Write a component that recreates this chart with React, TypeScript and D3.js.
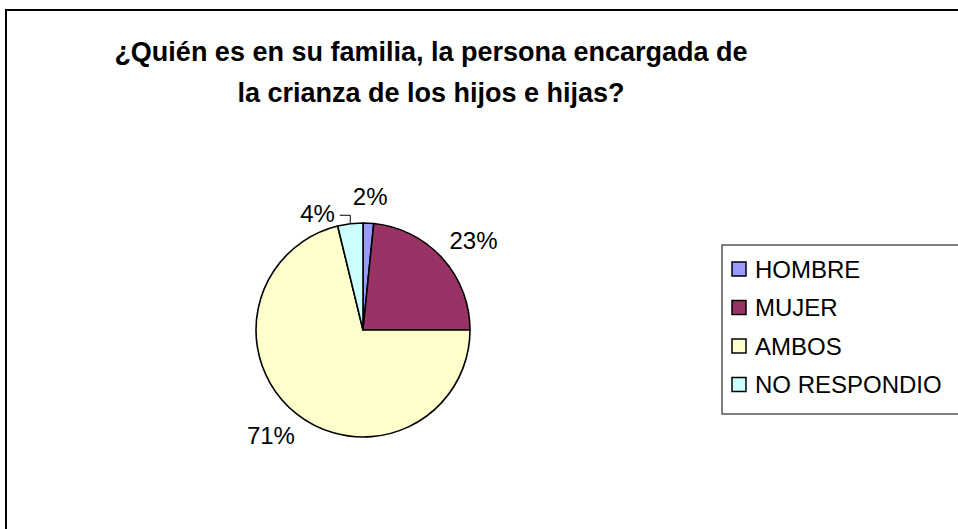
import React from "react";
import * as d3 from "d3";

const titleLines = ["¿Quién es en su familia, la persona encargada de", "la crianza de los hijos e hijas?"];
const categories = ["HOMBRE", "MUJER", "AMBOS", "NO RESPONDIO"];
const values = [1.6, 23.4, 71.2, 3.8];
const colors = ["#9999FF", "#993366", "#FFFFCC", "#CCFFFF"];

const W = 958;
const H = 529;
const FONT = "'Liberation Sans', Arial, sans-serif";

function measure(text: string, size: number, weight = "normal") {
  const c = document.createElement("canvas");
  const ctx = c.getContext("2d")!;
  ctx.font = `${weight} ${size}px ${FONT}`;
  return ctx.measureText(text).width;
}

export default function App() {
  const cx = 363;
  const cy = 330;
  const r = 107;
  const labelSize = 24;
  const capH = labelSize * 0.716;
  const pad = 18;

  const total = d3.sum(values);
  const pie = d3.pie<number>().sort(null).value((d) => d).startAngle(0).endAngle(2 * Math.PI);
  const arcs = pie(values);
  const arcGen = d3.arc<d3.PieArcDatum<number>>().innerRadius(0).outerRadius(r);

  type Lab = { text: string; x: number; y: number; w: number; mid: number; leader?: string };
  const labels: Lab[] = arcs.map((a) => {
    const mid = (a.startAngle + a.endAngle) / 2;
    const s = Math.sin(mid);
    const c = Math.cos(mid);
    const text = `${Math.round((a.value / total) * 100)}%`;
    const w = measure(text, labelSize);
    const px = (r + pad) * s;
    const py = -(r + pad) * c;
    const centerX = px + (w / 2) * s;
    const centerY = py - (capH / 2) * c;
    return { text, x: centerX, y: centerY + capH / 2, w, mid };
  });

  // resolve overlap of later labels with earlier ones (move left, add leader)
  for (let i = 1; i < labels.length; i++) {
    const L = labels[i];
    for (let j = 0; j < i; j++) {
      const O = labels[j];
      const overlapX = Math.abs(L.x - O.x) < (L.w + O.w) / 2;
      const overlapY = Math.abs(L.y - O.y) < capH + 4;
      if (overlapX && overlapY) {
        const ax = r * Math.sin(L.mid);
        const ay = -r * Math.cos(L.mid);
        L.x = O.x - O.w / 2 - 18 - L.w / 2;
        L.y = ay - 1.5;
        const lx = L.x + L.w / 2 + 5;
        const ly = L.y - 7;
        L.leader = `M${lx},${ly}H${ax}V${ay}`;
      }
    }
  }

  const legendX = 722;
  const legendY = 245;
  const legendH = 169;
  const rowY = d3.scalePoint<string>().domain(categories).range([legendY + 24, legendY + 24 + 3 * 38.5]);

  return (
    <svg width={W} height={H} style={{ position: "absolute", left: 0, top: 0, background: "#fff" }} fontFamily={FONT}>
      <rect x={0} y={0} width={W} height={H} fill="#fff" />
      <rect x={6} y={10} width={W + 50} height={H + 50} fill="none" stroke="#000" strokeWidth={2} />
      {titleLines.map((t, i) => (
        <text key={i} x={431} y={61 + i * 41} textAnchor="middle" fontSize={27} fontWeight="bold" fill="#000">
          {t}
        </text>
      ))}
      <g transform={`translate(${cx},${cy})`}>
        {arcs.map((a, i) => (
          <path key={i} d={arcGen(a) || ""} fill={colors[i]} stroke="#000" strokeWidth={1.6} strokeLinejoin="round" />
        ))}
        {labels.map((L, i) => (
          <g key={i}>
            {L.leader && <path d={L.leader} fill="none" stroke="#000" strokeWidth={1} />}
            <text x={L.x} y={L.y} textAnchor="middle" fontSize={labelSize} fill="#000">
              {L.text}
            </text>
          </g>
        ))}
      </g>
      <rect x={legendX} y={legendY} width={W} height={legendH} fill="#fff" stroke="#555" strokeWidth={1.5} />
      {categories.map((c, i) => {
        const y = rowY(c)!;
        return (
          <g key={c}>
            <rect x={732} y={y - 7} width={14} height={14} fill={colors[i]} stroke="#000" strokeWidth={1.5} />
            <text x={755} y={y + 8.5} fontSize={24} fill="#000">
              {c}
            </text>
          </g>
        );
      })}
    </svg>
  );
}
